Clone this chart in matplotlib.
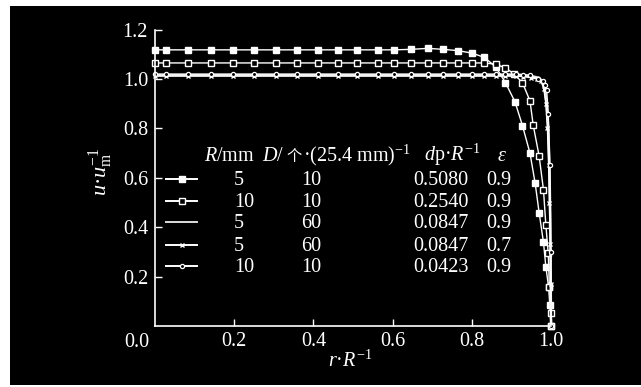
import matplotlib
matplotlib.use("Agg")
import matplotlib.pyplot as plt
from matplotlib.patches import Rectangle
from matplotlib.lines import Line2D

plt.rcParams['font.family'] = ['Liberation Serif', 'Noto Sans CJK SC']
plt.rcParams['mathtext.fontset'] = 'custom'
plt.rcParams['mathtext.rm'] = 'Liberation Serif'
plt.rcParams['mathtext.it'] = 'Liberation Serif:italic'
plt.rcParams['mathtext.bf'] = 'Liberation Serif:bold'

# ---------------- data ----------------
x_flat = [0, 0.027, 0.084, 0.141, 0.197, 0.251, 0.305, 0.359, 0.411, 0.461,
          0.510, 0.562, 0.603, 0.646, 0.689, 0.728, 0.764, 0.800, 0.831, 0.860]

# series 1: R=5, D=10 (filled squares)
x1 = x_flat + [0.885, 0.909, 0.928, 0.947, 0.960, 0.970, 0.981, 0.987, 0.994, 0.997, 1.0]
y1 = [1.118, 1.118, 1.118, 1.118, 1.118, 1.118, 1.118, 1.118, 1.118, 1.118, 1.118, 1.118, 1.118,
      1.12, 1.124, 1.12, 1.115, 1.105, 1.088, 1.05,
      0.985, 0.908, 0.811, 0.699, 0.578, 0.459, 0.339, 0.240, 0.157, 0.085, 0.0]

# series 2: R=10, D=10 (open squares)
x2 = x_flat + [0.885, 0.907, 0.928, 0.947, 0.955, 0.970, 0.981, 0.987, 0.993, 0.996, 1.0, 1.0]
y2 = [1.065, 1.065, 1.065, 1.065, 1.065, 1.065, 1.065, 1.065, 1.065, 1.065,
      1.065, 1.065, 1.065, 1.065, 1.065, 1.065, 1.065, 1.065, 1.065, 1.06,
      1.045, 1.02, 0.985, 0.911, 0.814, 0.688, 0.551, 0.409, 0.294, 0.157, 0.053, 0.0]

# series 3: R=5, D=60, eps=0.9 (plain line)
x3 = [0, 0.2, 0.4, 0.6, 0.8, 0.9, 0.95, 0.97, 0.978, 0.984, 0.989, 0.993, 0.996, 0.998, 0.999, 1.0]
y3 = [1.015, 1.015, 1.015, 1.015, 1.015, 1.015, 1.012, 1.005, 0.99, 0.96, 0.90, 0.80, 0.65, 0.45, 0.25, 0.0]

# series 4: R=5, D=60, eps=0.7 (x markers)
x4 = x_flat + [0.885, 0.911, 0.930, 0.950, 0.965, 0.975, 0.982, 0.987, 0.991, 0.994, 0.996, 0.998, 0.999, 1.0]
y4 = [1.012, 1.012, 1.012, 1.012, 1.012, 1.012, 1.012, 1.012, 1.012, 1.012,
      1.012, 1.012, 1.012, 1.012, 1.012, 1.012, 1.012, 1.012, 1.012, 1.012,
      1.012, 1.012, 1.01, 1.005, 1.0, 0.99, 0.96, 0.90, 0.80, 0.65, 0.50, 0.33, 0.17, 0.0]

# series 5: R=10, D=10, dp/R=0.0423 (small circles)
x5 = x_flat + [0.885, 0.911, 0.930, 0.947, 0.968, 0.979, 0.985, 0.989, 0.993, 0.997, 1.0, 1.0]
y5 = [1.02, 1.02, 1.02, 1.02, 1.02, 1.02, 1.02, 1.02, 1.02, 1.02,
      1.02, 1.02, 1.02, 1.02, 1.02, 1.02, 1.02, 1.02, 1.02, 1.02,
      1.02, 1.02, 1.018, 1.015, 1.0, 0.99, 0.975, 0.955, 0.86, 0.65, 0.30, 0.0]

# legend table
R_mm = ['5', '10', '5', '5', '10']
D_col = ['10', '10', '60', '60', '10']
dpR = ['0.5080', '0.2540', '0.0847', '0.0847', '0.0423']
eps = ['0.9', '0.9', '0.9', '0.7', '0.9']

xticks = [0.2, 0.4, 0.6, 0.8, 1.0]
xticklabels = ['0.2', '0.4', '0.6', '0.8', '1.0']
yticks = [0.2, 0.4, 0.6, 0.8, 1.0, 1.2]
yticklabels = ['0.2', '0.4', '0.6', '0.8', '1.0', '1.2']

# ---------------- figure ----------------
W, H = 641, 387
fig = plt.figure(figsize=(W / 100, H / 100), dpi=100, facecolor='white')
fig.patches.append(Rectangle((10 / W, 2 / H), 1 - 10 / W, 1 - 8 / H,
                             transform=fig.transFigure, facecolor='black',
                             edgecolor='none', zorder=-10))

AX_L, AX_R, AX_B, AX_T = 155, 551, 326, 29.6
ax = fig.add_axes([AX_L / W, 1 - AX_B / H, (AX_R - AX_L) / W, (AX_B - AX_T) / H])
ax.set_facecolor('none')
ax.set_xlim(0, 1.0)
ax.set_ylim(0, 1.2)

def px2ax(px, py):
    return (px - AX_L) / (AX_R - AX_L), (AX_B - py) / (AX_B - AX_T)

fg = 'white'
for s in ['top', 'right']:
    ax.spines[s].set_visible(False)
for s in ['left', 'bottom']:
    ax.spines[s].set_color(fg)
    ax.spines[s].set_linewidth(1.2)

ax.set_xticks(xticks)
ax.set_xticklabels(xticklabels)
ax.set_yticks(yticks)
ax.set_yticklabels(yticklabels)
ax.tick_params(direction='in', length=5, width=1.0, colors=fg, labelsize=14.5, pad=5)
ax.tick_params(axis='x', pad=4)

# origin label
ax.text(-0.045, -0.025, '0.0', transform=ax.transAxes, ha='center', va='top',
        color=fg, fontsize=14.5)

lw = 1.0
styles = [
    dict(marker='s', ms=5, mfc=fg, mec=fg, mew=1.0, color=fg, lw=lw),
    dict(marker='s', ms=5, mfc='black', mec=fg, mew=1.0, color=fg, lw=lw),
    dict(marker=None, color='#dddddd', lw=1.8),
    dict(marker='x', ms=3.5, mec=fg, mew=1.0, color=fg, lw=lw),
    dict(marker='o', ms=3, mfc='black', mec=fg, mew=0.9, color=fg, lw=lw),
]
series = [(x1, y1), (x2, y2), (x3, y3), (x4, y4), (x5, y5)]
for (xs, ys), st in zip(series, styles):
    ax.plot(xs, ys, clip_on=False, **st)

ax.set_xlabel(r'$r$·$R^{-1}$', color=fg, fontsize=14.5)
ax.xaxis.set_label_coords(*px2ax(350, 351))
ax.set_ylabel(r'$u$·$u_{\mathrm{m}}^{-1}$', color=fg, fontsize=16)
ax.yaxis.set_label_coords(*px2ax(115, 172))

# legend table
row_base = [185, 207, 228.5, 251, 272]
for i, st in enumerate(styles):
    yb = row_base[i] - 6.5
    xa, ya = px2ax(166, yb)
    xb, _ = px2ax(197, yb)
    xm, _ = px2ax(181.5, yb)
    ax.add_line(Line2D([xa, xb], [ya, ya], transform=ax.transAxes, clip_on=False,
                       color=st['color'], lw=1.4))
    if st['marker'] is not None:
        ax.add_line(Line2D([xm], [ya], transform=ax.transAxes, clip_on=False,
                           linestyle='none', marker=st['marker'], ms=st['ms'],
                           mfc=st.get('mfc', fg), mec=st['mec'], mew=st['mew']))
    for col_x, txt in [(234, R_mm[i]), (301, D_col[i]), (413, dpR[i]), (486, eps[i])]:
        tx, ty = px2ax(col_x, row_base[i])
        ax.text(tx, ty, txt, transform=ax.transAxes, ha='left', va='baseline',
                color=fg, fontsize=14.5)

hb = 161
header = [(204, r'$R$/mm', None),
          (262, r'$D$/', None),
          (286, '个', ['Noto Sans CJK SC']),
          (303, r'·(25.4 mm)$^{-1}$', None),
          (424, r'$d$p·$R^{-1}$', None),
          (497, r'$\varepsilon$', None)]
for px, txt, fam in header:
    tx, ty = px2ax(px, hb)
    kw = dict(transform=ax.transAxes, ha='left', va='baseline', color=fg, fontsize=14.5)
    if fam:
        kw['fontfamily'] = fam
        kw['fontsize'] = 11
    ax.text(tx, ty, txt, **kw)

fig.savefig('out.png', dpi=100, facecolor='white')
